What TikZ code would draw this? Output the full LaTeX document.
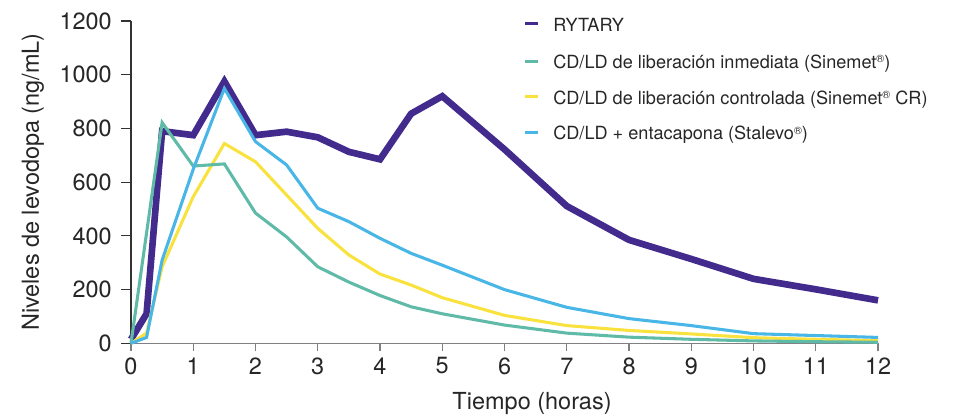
\documentclass[tikz,border=0pt]{standalone}
\usepackage{fontspec}
\setmainfont{TeX Gyre Heros}
\usetikzlibrary{positioning}
\definecolor{rytaryc}{RGB}{66,43,140}
\definecolor{inmedc}{RGB}{96,186,168}
\definecolor{controlc}{RGB}{250,226,62}
\definecolor{stalevoc}{RGB}{72,182,230}
\newcommand{\regmark}{\raisebox{0.6ex}{\fontsize{8}{8}\selectfont\textregistered}}
\tikzset{
	serie/.style={line width=2.3pt},
	rytary/.style={line width=5pt,color=rytaryc},
	ejey/.style={line width=0.9pt,color=black!80},
	ejex/.style={line width=0.9pt,color=black!50},
	ticklab/.style={inner sep=0pt,text=black!85,font=\fontsize{17.6}{20}\selectfont},
	leyenda/.style={anchor=base west,inner sep=0pt,text=black!85,font=\fontsize{13.6}{16}\selectfont},
	marca/.style={line width=2.3pt},
}

\begin{document}
\begin{tikzpicture}[x=0.75pt,y=0.75pt]
		\useasboundingbox (0,0) rectangle (956,414);
		
		\begin{scope}[xshift=98.25pt,yshift=53pt,x=46.69pt,y=0.20145pt]
		% ejes
		\draw[ejey] (0,0) -- (0,1200);
		\draw[ejex] (0,0) -- (12,0);
		\foreach \v in {0,200,...,1200} {
			\draw[ejey] (0,\v) -- ++(-7.5pt,0);
			\node[ticklab,anchor=east] (y\v) at ([xshift=-14.25pt]0,\v) {\v};
		}
		\foreach \t in {0,...,12} {
			\draw[ejex] (\t,0) -- ++(0,-5.6pt);
			\node[ticklab] (x\t) at ([yshift=-17pt]\t,0) {\t};
		}
		
		% curvas
		\draw[rytary] plot coordinates {(0,15) (0.25,110) (0.5,790) (1,775) (1.5,975) (2,775) (2.5,788) (3,767) (3.5,713) (4,685) (4.5,855) (5,920) (6,722) (7,511) (8,385) (9,314) (10,240) (11,201) (12,160)};
		\draw[serie,controlc] plot coordinates {(0,0) (0.25,38) (0.5,285) (1,546) (1.5,744) (2,676) (2.5,552) (3,428) (3.5,329) (4,258) (4.5,217) (5,170) (6,104) (7,66) (8,48) (9,35) (10,21) (11,15) (12,10)};
		\draw[serie,inmedc] plot coordinates {(0,0) (0.5,822) (1,660) (1.5,668) (2,485) (2.5,396) (3,285) (3.5,228) (4,178) (4.5,136) (5,110) (6,68) (7,38) (8,23) (9,15) (10,9) (11,6) (12,4)};
		\draw[serie,stalevoc] plot coordinates {(0,0) (0.25,22) (0.5,310) (1,648) (1.5,949) (2,751) (2.5,664) (3,503) (3.5,453) (4,391) (4.5,335) (5,291) (6,200) (7,134) (8,92) (9,66) (10,36) (11,29) (12,22)};
		\end{scope}
		
		% titulos de los ejes
		\node[ticklab,rotate=90] (ytit) at (33,232) {Niveles de levodopa (ng/mL)};
		\node[ticklab,anchor=base] (xtit) at (532,5) {Tiempo (horas)};
		
		% leyenda
		\draw[marca,rytaryc] (525,390.5) -- (538,390.5);
		\node[leyenda] (l1) at (553,382.3) {RYTARY};
		\draw[marca,inmedc] (525,352.5) -- (538,352.5);
		\node[leyenda] (l2) at (553,345.7) {CD/LD de liberación inmediata (Sinemet\regmark)};
		\draw[marca,controlc] (525,317.3) -- (538,317.3);
		\node[leyenda] (l3) at (553,309.7) {CD/LD de liberación controlada (Sinemet\regmark{} CR)};
		\draw[marca,stalevoc] (525,281.3) -- (538,281.3);
		\node[leyenda] (l4) at (553,274) {CD/LD + entacapona (Stalevo\regmark)};
\end{tikzpicture}
\end{document}
